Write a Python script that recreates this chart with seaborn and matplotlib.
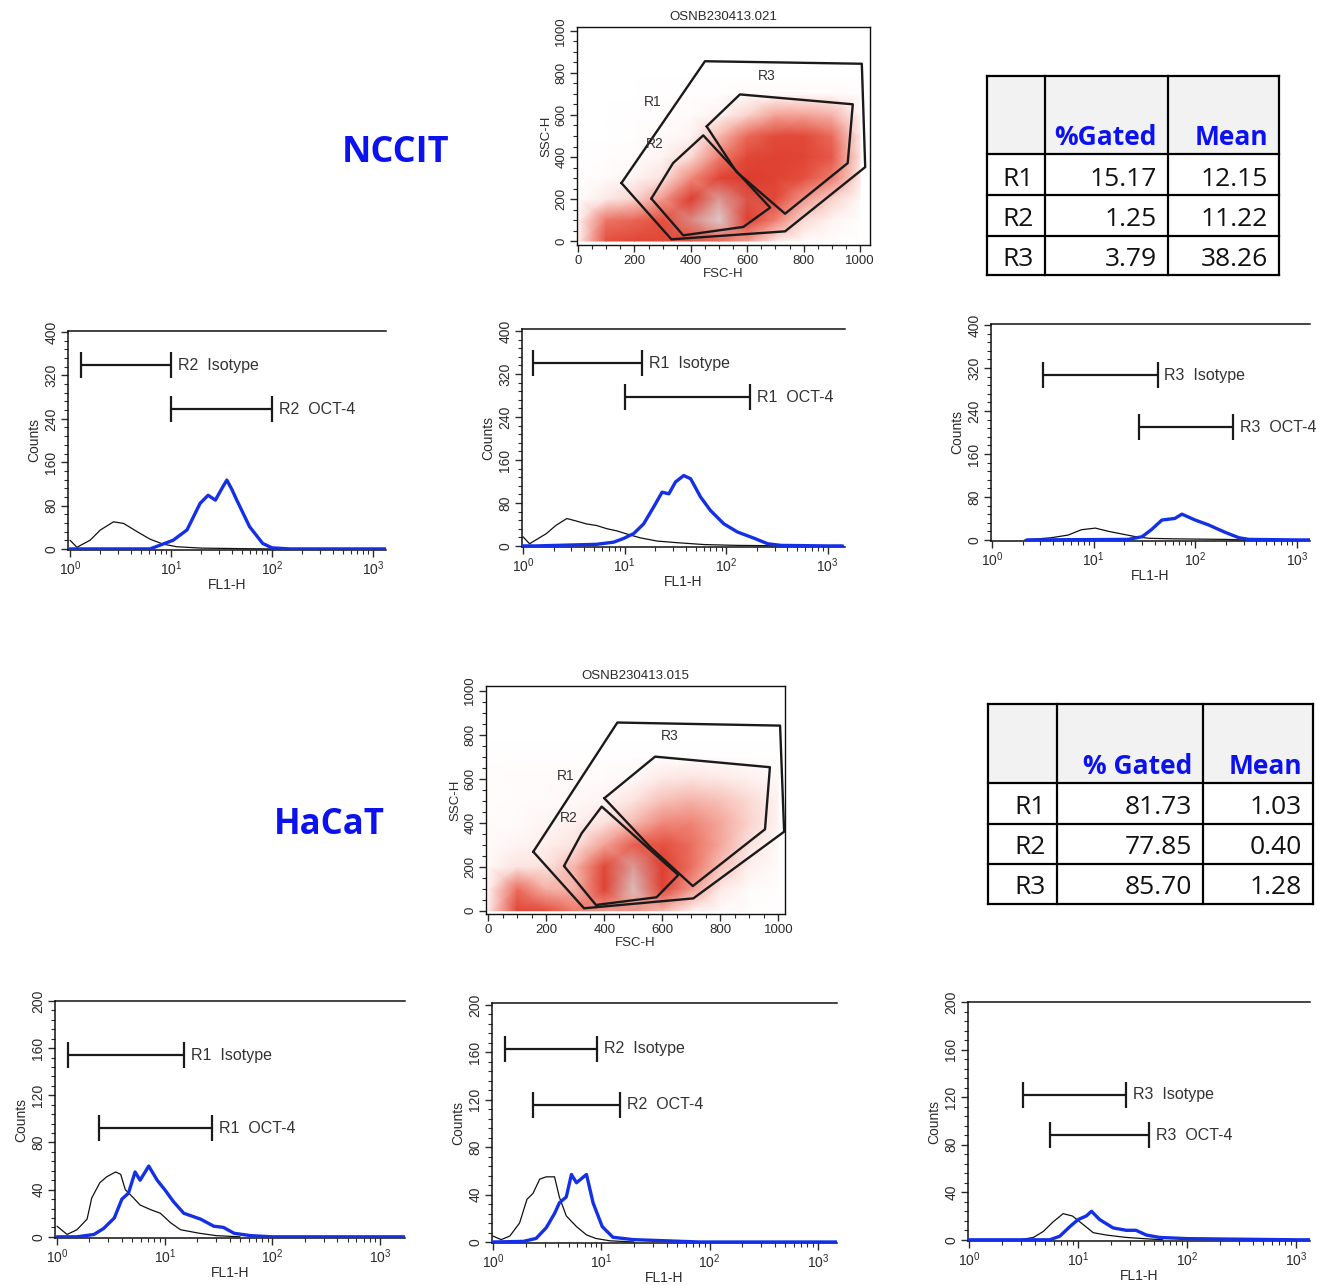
import numpy as np
import matplotlib
matplotlib.use("Agg")
import matplotlib.pyplot as plt
import seaborn as sns
from matplotlib.colors import LinearSegmentedColormap
from matplotlib import font_manager
from matplotlib.ticker import MultipleLocator, LogLocator, NullFormatter, LogFormatterSciNotation

# ---------------- data ----------------
cell_lines = ["NCCIT", "HaCaT"]
scatter_titles = ["OSNB230413.021", "OSNB230413.015"]

# scatter density grid nodes (FSC-H columns, SSC-H rows)
fsc_nodes = [0, 100, 200, 300, 400, 500, 600, 700, 800, 900, 1000]
ssc_nodes = [0, 100, 200, 300, 400, 500, 600, 700, 800, 900, 1000]
nccit_density = [
    [0.3, 3.2, 3.8, 3.8, 3.2, 2.5, 1.5, 0.4, 0.1, 0.05, 0.0],
    [0.2, 2.2, 2.6, 3.2, 7.0, 9.0, 4.8, 2.0, 0.6, 0.2, 0.05],
    [0.05, 0.4, 0.7, 1.6, 5.2, 7.5, 6.0, 3.5, 1.6, 0.7, 0.15],
    [0.02, 0.1, 0.2, 0.5, 1.8, 4.2, 5.5, 4.5, 3.2, 2.0, 0.4],
    [0.0, 0.05, 0.1, 0.2, 0.6, 2.0, 3.8, 4.5, 4.0, 3.0, 0.5],
    [0.0, 0.02, 0.05, 0.1, 0.2, 1.0, 2.5, 3.5, 3.5, 2.5, 0.4],
    [0.0, 0.0, 0.05, 0.05, 0.1, 0.2, 0.7, 1.4, 1.4, 1.1, 0.2],
    [0.0, 0.0, 0.0, 0.05, 0.05, 0.05, 0.1, 0.1, 0.1, 0.1, 0.05],
    [0.0] * 11,
    [0.0] * 11,
    [0.0] * 11,
]
hacat_density = [
    [0.4, 4.0, 3.2, 2.0, 1.6, 1.6, 1.0, 0.3, 0.1, 0.05, 0.0],
    [0.3, 2.4, 1.1, 1.1, 4.5, 8.5, 4.5, 1.6, 0.4, 0.1, 0.05],
    [0.15, 0.5, 0.5, 1.1, 3.8, 7.5, 5.0, 2.4, 0.9, 0.3, 0.1],
    [0.1, 0.2, 0.3, 0.5, 1.4, 2.8, 3.2, 2.4, 1.3, 0.5, 0.15],
    [0.1, 0.1, 0.2, 0.3, 0.5, 1.0, 1.8, 1.9, 1.3, 0.7, 0.2],
    [0.05, 0.1, 0.1, 0.15, 0.2, 0.5, 0.9, 1.1, 0.9, 0.6, 0.2],
    [0.05, 0.1, 0.1, 0.1, 0.1, 0.15, 0.4, 0.5, 0.4, 0.3, 0.15],
    [0.05, 0.05, 0.05, 0.05, 0.05, 0.05, 0.05, 0.05, 0.05, 0.05, 0.05],
    [0.0] * 11,
    [0.0] * 11,
    [0.0] * 11,
]

# gate polygons (FSC-H, SSC-H)
nccit_r1 = [(154, 276), (450, 856), (1006, 844), (1018, 352), (734, 46), (331, 8)]
nccit_r2 = [(260, 202), (337, 371), (444, 503), (681, 159), (586, 67), (373, 27)]
nccit_r3 = [(456, 546), (574, 698), (974, 651), (956, 371), (734, 130), (562, 329)]
nccit_gate_labels = [("R1", 266, 662), ("R2", 272, 460), ("R3", 669, 784)]
hacat_r1 = [(155, 268), (445, 855), (1006, 841), (1020, 359), (707, 56), (330, 11)]
hacat_r2 = [(261, 203), (322, 352), (391, 473), (655, 162), (580, 61), (371, 26)]
hacat_r3 = [(400, 511), (575, 700), (971, 652), (954, 370), (705, 112), (557, 291)]
hacat_gate_labels = [("R1", 268, 612), ("R2", 276, 420), ("R3", 626, 794)]

# tables
regions = ["R1", "R2", "R3"]
nccit_headers = ["%Gated", "Mean"]
nccit_gated = [15.17, 1.25, 3.79]
nccit_mean = [12.15, 11.22, 38.26]
hacat_headers = ["% Gated", "Mean"]
hacat_gated = [81.73, 77.85, 85.70]
hacat_mean = [1.03, 0.40, 1.28]

# histograms: FL1-H vs counts (isotype black, OCT-4 blue)
nccit_r2_iso_x = [1.0, 1.17, 1.58, 2.0, 2.7, 3.4, 4.6, 6.2, 8.3, 11.4, 20, 50, 100, 1000, 1400]
nccit_r2_iso_y = [16, 3, 16, 35, 50, 47, 32, 18, 9, 4, 1.5, 0.5, 0, 0, 0]
nccit_r2_oct_x = [1.0, 6.2, 10.5, 14.4, 19.4, 23.3, 27.5, 32, 35.7, 40, 44.8, 60, 81, 100, 150, 1000, 1400]
nccit_r2_oct_y = [0, 0, 16, 35, 84, 99, 90, 112, 127, 110, 90, 41, 10, 2, 0, 0, 0]

nccit_r1_iso_x = [1.0, 1.16, 1.7, 2.1, 2.7, 3.4, 4.2, 5.3, 6.7, 8.4, 10.6, 14.3, 21, 33, 61, 130, 250, 1000, 1400]
nccit_r1_iso_y = [17, 4, 23, 38, 51, 46, 41, 38, 32, 28, 22, 15, 9, 6, 2.5, 1, 0.5, 0, 0]
nccit_r1_oct_x = [1.0, 1.35, 5.3, 7.8, 9.8, 12.3, 15.4, 19.4, 23.4, 27.3, 31.7, 38.2, 44.7, 56, 70, 95, 129, 190, 257, 347, 1000, 1400]
nccit_r1_oct_y = [0, 0, 3, 7, 14, 23, 41, 73, 100, 97, 119, 131, 125, 91, 66, 41, 26, 14, 4, 1, 0, 0]

nccit_r3_iso_x = [2.1, 3.8, 5.6, 7.6, 10.4, 14, 19, 26, 35, 63, 200, 300, 1000, 1400]
nccit_r3_iso_y = [0, 4, 9, 19, 22, 16, 11, 6, 3, 2, 1, 0, 0, 0]
nccit_r3_oct_x = [2.2, 22, 30, 37, 47, 63, 74, 100, 135, 198, 270, 337, 1000, 1400]
nccit_r3_oct_y = [0, 1, 6, 19, 37, 40, 48, 37, 28, 14, 4, 1, 0, 0]

hacat_r1_iso_x = [1.0, 1.24, 1.53, 1.9, 2.1, 2.5, 2.9, 3.5, 3.9, 4.3, 5.0, 5.9, 7.4, 9.1, 11.3, 14, 21, 30, 50]
hacat_r1_iso_y = [9, 2, 6, 15, 33, 46, 51, 55, 53, 40, 34, 27, 23, 20, 12, 6, 3, 1, 0]
hacat_r1_oct_x = [1.0, 1.53, 2.2, 2.7, 3.4, 4.0, 4.6, 5.3, 5.9, 7.1, 8.5, 10, 12, 15, 21.5, 28.5, 35, 44, 62.5, 100, 1000, 1700]
hacat_r1_oct_y = [0, 0, 2, 7, 16, 32, 37, 55, 48, 60, 48, 40, 30, 20, 15, 9, 8, 3, 1, 0, 0, 0]

hacat_r2_iso_x = [1.0, 1.19, 1.43, 1.76, 2.06, 2.34, 2.7, 3.1, 3.7, 4.1, 4.75, 5.9, 7.3, 8.9, 12, 20]
hacat_r2_iso_y = [5, 2, 5, 16, 36, 41, 53, 55, 55, 38, 22, 13, 6, 3, 1, 0]
hacat_r2_oct_x = [1.0, 1.9, 2.5, 3.1, 3.7, 4.1, 4.75, 5.3, 5.9, 7.3, 8.4, 10.2, 12.8, 19.6, 40, 80, 1000, 1600]
hacat_r2_oct_y = [0, 0.5, 3, 12, 24, 33, 38, 57, 50, 57, 33, 13, 4, 2, 1, 0, 0, 0]

hacat_r3_iso_x = [2.9, 3.9, 4.8, 5.9, 7.3, 8.9, 11.1, 13.8, 18.2, 27.7, 40, 60]
hacat_r3_iso_y = [0, 2, 7, 15, 22, 20, 13, 6, 4, 2, 1, 0]
hacat_r3_oct_x = [1.0, 5.5, 6.8, 8.4, 10, 11.9, 13.3, 15.8, 21, 27.7, 34, 42.4, 56, 100, 1000, 1500]
hacat_r3_oct_y = [0, 0, 3, 11, 17, 20, 24, 17, 10, 8, 8, 4, 2, 1, 0, 0]

# gate markers: (start, end, counts level, label)
nccit_r2_markers = [(1.29, 10, 339, "R2  Isotype"), (10, 100, 258, "R2  OCT-4")]
nccit_r1_markers = [(1.25, 14.9, 340, "R1  Isotype"), (10, 170, 277, "R1  OCT-4")]
nccit_r3_markers = [(3.2, 42.6, 307, "R3  Isotype"), (28, 234, 210, "R3  OCT-4")]
hacat_r1_markers = [(1.26, 15, 154, "R1  Isotype"), (2.45, 27.7, 92, "R1  OCT-4")]
hacat_r2_markers = [(1.29, 9.1, 163, "R2  Isotype"), (2.34, 15, 116, "R2  OCT-4")]
hacat_r3_markers = [(3.13, 27.4, 122, "R3  Isotype"), (5.5, 44.6, 88, "R3  OCT-4")]

# ---------------- style ----------------
sns.set_theme(style="white")
plt.rcParams["font.family"] = ["Liberation Sans", "DejaVu Sans"]
TXT = "#2a2a2a"
BLUE = "#1430e6"
TITLE_BLUE = "#0c12ee"


def has_font(name):
    try:
        font_manager.findfont(font_manager.FontProperties(family=name), fallback_to_default=False)
        return True
    except Exception:
        return False


if has_font("Liberation Sans Narrow"):
    TABLE_FONT, TABLE_SIZE = "Liberation Sans Narrow", 24
else:
    TABLE_FONT, TABLE_SIZE = "Open Sans", 19

W, H = 1320, 1285
fig = plt.figure(figsize=(W / 100, H / 100), dpi=100)


def px_axes(l, t, r, b):
    return fig.add_axes([l / W, 1 - b / H, (r - l) / W, (b - t) / H])


flow_cmap = LinearSegmentedColormap.from_list(
    "flow",
    [(0.0, "#ffffff"), (0.04, "#fde9e6"), (0.1, "#f6b8ae"), (0.2, "#ee7d6e"),
     (0.33, "#e34a39"), (0.55, "#dc3b2e"), (0.72, "#dc8f8a"), (0.88, "#dcc5c5"), (1.0, "#e6dcdc")],
)


def style_ticks(ax, size=10):
    ax.tick_params(axis="both", which="both", direction="out", colors=TXT, labelsize=size,
                   bottom=True, left=True, top=False, right=False)
    ax.tick_params(which="major", length=5, width=1.0, pad=2)
    ax.tick_params(which="minor", length=3, width=0.8)
    for lab in ax.get_yticklabels():
        lab.set_rotation(90)
        lab.set_va("center")


def scatter_panel(box, xlim, ylim, density, gates, labels, title):
    ax = px_axes(*box)
    X, Y = np.meshgrid(fsc_nodes, ssc_nodes)
    ax.pcolormesh(X, Y, np.array(density), shading="gouraud", cmap=flow_cmap,
                  vmin=0, vmax=10, zorder=1, rasterized=True)
    for poly in gates:
        pts = np.array(poly + [poly[0]])
        ax.plot(pts[:, 0], pts[:, 1], color="#1a1a1a", lw=1.7, zorder=3)
    for name, gx, gy in labels:
        ax.text(gx, gy, name, fontsize=10, color="#333333", ha="center", va="center", zorder=4)
    ax.set_xlim(*xlim)
    ax.set_ylim(*ylim)
    ax.xaxis.set_major_locator(MultipleLocator(200))
    ax.xaxis.set_minor_locator(MultipleLocator(50))
    ax.yaxis.set_major_locator(MultipleLocator(200))
    ax.yaxis.set_minor_locator(MultipleLocator(50))
    for s in ax.spines.values():
        s.set_color("#111111")
        s.set_linewidth(1.0)
    ax.set_title(title, fontsize=9.5, color=TXT, pad=5)
    ax.set_xlabel("FSC-H", fontsize=9.5, color=TXT, labelpad=1)
    ax.set_ylabel("SSC-H", fontsize=9.5, color=TXT, labelpad=2)
    ax.set_facecolor("white")
    style_ticks(ax, 9.5)
    return ax


def hist_panel(box, xlim, ylim, ymajor, yminor, iso_x, iso_y, oct_x, oct_y, markers):
    ax = px_axes(*box)
    ax.set_xscale("log")
    sns.lineplot(x=iso_x, y=iso_y, ax=ax, color="#111111", lw=0.9, estimator=None, sort=False, zorder=3)
    sns.lineplot(x=oct_x, y=oct_y, ax=ax, color=BLUE, lw=2.4, estimator=None, sort=False, zorder=4)
    for x0, x1, lvl, lab in markers:
        ax.plot([x0, x1], [lvl, lvl], color="#1a1a1a", lw=1.6, zorder=5)
        ax.plot([x0, x1], [lvl, lvl], ls="none", marker="|", ms=19, mew=1.6, color="#1a1a1a", zorder=5)
        ax.annotate(lab, (x1, lvl), xytext=(5, 0), textcoords="offset points", va="center", ha="left",
                    fontsize=11.5, color="#333333", annotation_clip=False)
    ax.set_xlim(*xlim)
    ax.set_ylim(*ylim)
    ax.xaxis.set_major_locator(LogLocator(base=10, numticks=10))
    ax.xaxis.set_minor_locator(LogLocator(base=10, subs=np.arange(2, 10), numticks=20))
    ax.xaxis.set_major_formatter(LogFormatterSciNotation())
    ax.xaxis.set_minor_formatter(NullFormatter())
    ax.yaxis.set_major_locator(MultipleLocator(ymajor))
    ax.yaxis.set_minor_locator(MultipleLocator(yminor))
    ax.spines["right"].set_visible(False)
    for s in ["left", "bottom", "top"]:
        ax.spines[s].set_color("#111111")
        ax.spines[s].set_linewidth(1.1)
    ax.set_xlabel("FL1-H", fontsize=10, color=TXT, labelpad=0)
    ax.set_ylabel("Counts", fontsize=10, color=TXT, labelpad=2)
    style_ticks(ax, 10)
    return ax


def table_panel(cols, rows, headers, gated, mean):
    ax = px_axes(cols[0] - 2, rows[0] - 2, cols[-1] + 2, rows[-1] + 2)
    ax.set_xlim(cols[0] - 2, cols[-1] + 2)
    ax.set_ylim(rows[-1] + 2, rows[0] - 2)
    ax.axis("off")
    ax.fill_between([cols[0], cols[-1]], rows[0], rows[1], color="#f2f2f2", lw=0)
    for x in cols:
        ax.plot([x, x], [rows[0], rows[-1]], color="black", lw=1.6, solid_capstyle="projecting")
    for y in rows:
        ax.plot([cols[0], cols[-1]], [y, y], color="black", lw=1.6, solid_capstyle="projecting")
    for j, h in enumerate(headers):
        ax.text(cols[j + 2] - 11, rows[1] - 9, h, ha="right", va="baseline", color=TITLE_BLUE,
                fontsize=TABLE_SIZE, fontweight="bold", family=[TABLE_FONT, "DejaVu Sans"])
    for i, reg in enumerate(regions):
        yb = rows[i + 2] - 9.5
        vals = [reg, f"{gated[i]:.2f}", f"{mean[i]:.2f}"]
        for j, v in enumerate(vals):
            ax.text(cols[j + 1] - 11, yb, v, ha="right", va="baseline", color="#111111",
                    fontsize=TABLE_SIZE, family=[TABLE_FONT, "DejaVu Sans"])
    return ax


# ---------------- NCCIT block ----------------
fig.text(396 / W, 1 - 153 / H, cell_lines[0], color=TITLE_BLUE, fontsize=26, fontweight="bold",
         ha="center", va="center", family=["Open Sans", "DejaVu Sans"])
scatter_panel((577, 27, 870, 245), (-3.5, 1035), (-19, 1019), nccit_density,
              [nccit_r1, nccit_r2, nccit_r3], nccit_gate_labels, scatter_titles[0])
table_panel([987, 1045, 1168, 1279], [76, 154, 195, 236, 275], nccit_headers, nccit_gated, nccit_mean)

hist_panel((68, 331, 386, 550), (10 ** -0.02, 10 ** 3.129), (-2, 402), 80, 16,
           nccit_r2_iso_x, nccit_r2_iso_y, nccit_r2_oct_x, nccit_r2_oct_y, nccit_r2_markers)
hist_panel((522, 329, 845, 547), (10 ** -0.01, 10 ** 3.17), (-2, 403.7), 80, 16,
           nccit_r1_iso_x, nccit_r1_iso_y, nccit_r1_oct_x, nccit_r1_oct_y, nccit_r1_markers)
hist_panel((991, 324, 1310, 541), (10 ** -0.01, 10 ** 3.13), (-2, 402), 80, 16,
           nccit_r3_iso_x, nccit_r3_iso_y, nccit_r3_oct_x, nccit_r3_oct_y, nccit_r3_markers)

# ---------------- HaCaT block ----------------
fig.text(329 / W, 1 - 825 / H, cell_lines[1], color=TITLE_BLUE, fontsize=25, fontweight="bold",
         ha="center", va="center", family=["Open Sans", "DejaVu Sans"])
scatter_panel((486, 686, 785, 914), (-8, 1023), (-15, 1021), hacat_density,
              [hacat_r1, hacat_r2, hacat_r3], hacat_gate_labels, scatter_titles[1])
table_panel([988, 1057, 1203, 1313], [704, 783, 824, 864, 904], hacat_headers, hacat_gated, hacat_mean)

hist_panel((55, 1001, 405, 1238), (10 ** -0.019, 10 ** 3.23), (-1, 200), 40, 8,
           hacat_r1_iso_x, hacat_r1_iso_y, hacat_r1_oct_x, hacat_r1_oct_y, hacat_r1_markers)
hist_panel((492, 1003, 837, 1243), (10 ** -0.009, 10 ** 3.176), (-0.85, 201.7), 40, 8,
           hacat_r2_iso_x, hacat_r2_iso_y, hacat_r2_oct_x, hacat_r2_oct_y, hacat_r2_markers)
hist_panel((968, 1002, 1310, 1241), (10 ** -0.009, 10 ** 3.128), (-1, 200), 40, 8,
           hacat_r3_iso_x, hacat_r3_iso_y, hacat_r3_oct_x, hacat_r3_oct_y, hacat_r3_markers)

fig.savefig("out.png", dpi=100, facecolor="white")
